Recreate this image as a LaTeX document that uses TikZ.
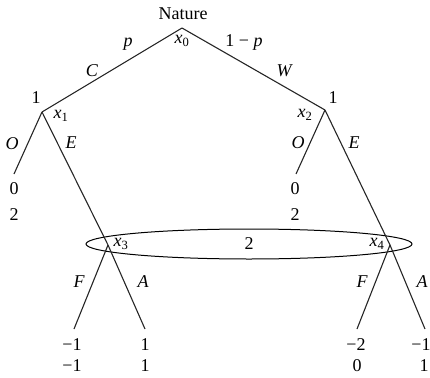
\documentclass[tikz,border=0pt]{standalone}
\usepackage{fontspec}
\setmainfont{Liberation Serif}
\begin{document}
\begin{tikzpicture}[x=1pt,y=-1pt,
  edge/.style={line width=1.1pt,black!85},
  lbl/.style={font=\fontsize{18}{20}\selectfont\itshape,inner sep=0pt},
  num/.style={font=\fontsize{18}{20}\selectfont,inner sep=0pt}]
\useasboundingbox (0,0) rectangle (430,377);
% decision nodes
\coordinate (x0) at (182,28);
\coordinate (x1) at (42,112);
\coordinate (x2) at (325,110);
\coordinate (x3) at (108,245);
\coordinate (x4) at (390,245);
% leaves
\coordinate (l1) at (14,174);
\coordinate (l2) at (296,174);
\coordinate (l3) at (74,329);
\coordinate (l4) at (145,329);
\coordinate (l5) at (357,329);
\coordinate (l6) at (425,329);
% information set
\draw[line width=1pt] (249,244) ellipse [x radius=163, y radius=15];
% edges
\draw[edge] (x0) -- (x1);
\draw[edge] (x0) -- (x2);
\draw[edge] (x1) -- (l1);
\draw[edge] (x1) -- (x3);
\draw[edge] (x2) -- (l2);
\draw[edge] (x2) -- (x4);
\draw[edge] (x3) -- (l3);
\draw[edge] (x3) -- (l4);
\draw[edge] (x4) -- (l5);
\draw[edge] (x4) -- (l6);
% node labels
\node[num] (nat) at (183,14) {Nature};
\node[lbl] (n0) at (182,41) {x\textsubscript{\upshape 0}};
\node[num] (p1a) at (36,98) {1};
\node[lbl] (n1) at (61,116) {x\textsubscript{\upshape 1}};
\node[num] (p1b) at (333,98) {1};
\node[lbl] (n2) at (305,115) {x\textsubscript{\upshape 2}};
\node[lbl] (n3) at (121,244) {x\textsubscript{\upshape 3}};
\node[lbl] (n4) at (377,244) {x\textsubscript{\upshape 4}};
\node[num] (p2) at (249,244) {2};
% edge labels
\node[lbl] (ep) at (128,44) {p};
\node[lbl] (eC) at (92,71) {C};
\node[num] (e1p) at (244,42) {1 − \textit{p}};
\node[lbl] (eW) at (284,71) {W};
\node[lbl] (eO1) at (12,144) {O};
\node[lbl] (eE1) at (71,143) {E};
\node[lbl] (eO2) at (298,143) {O};
\node[lbl] (eE2) at (354,143) {E};
\node[lbl] (eF1) at (79,282) {F};
\node[lbl] (eA1) at (143,282) {A};
\node[lbl] (eF2) at (362,282) {F};
\node[lbl] (eA2) at (422,282) {A};
% payoffs
\node[num] (a1) at (14,189) {0};
\node[num] (b1) at (14,215) {2};
\node[num] (a2) at (295,189) {0};
\node[num] (b2) at (295,215) {2};
\node[num] (a3) at (72,345) {−1};
\node[num] (b3) at (72,366) {−1};
\node[num] (a4) at (145,345) {1};
\node[num] (b4) at (145,366) {1};
\node[num] (a5) at (356,345) {−2};
\node[num] (b5) at (357,366) {0};
\node[num] (a6) at (421,345) {−1};
\node[num] (b6) at (424,366) {1};
\end{tikzpicture}
\end{document}
